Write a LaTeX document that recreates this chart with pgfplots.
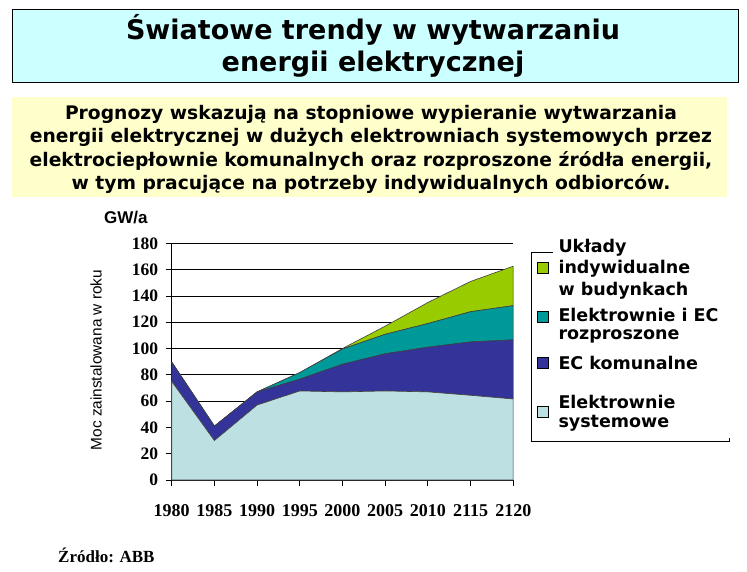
\documentclass[border=0pt]{standalone}
\usepackage{fontspec}
\setmainfont{Liberation Serif}
\newfontfamily\verd{DejaVu Sans}
\newfontfamily\arial{Liberation Sans}
\usepackage{pgfplots}
\pgfplotsset{compat=1.18}
\definecolor{titlecyan}{HTML}{CCFFFF}
\definecolor{subyellow}{HTML}{FFFFCC}
\definecolor{cgreen}{HTML}{99CC00}
\definecolor{cteal}{HTML}{009999}
\definecolor{cnavy}{HTML}{333399}
\definecolor{clight}{HTML}{BDE0E2}
\begin{document}
\begin{tikzpicture}[x=1pt,y=1pt]
\path[use as bounding box] (0,0) rectangle (747,571);
% title box
\draw[fill=titlecyan, line width=1pt] (12,488) rectangle (738,561);
\node[align=center, font=\verd\bfseries\fontsize{27}{32}\selectfont] at (373,525) {Światowe trendy w wytwarzaniu\\energii elektrycznej};
% subtitle box
\fill[subyellow] (12,374) rectangle (727,474);
\node[align=center, font=\verd\bfseries\fontsize{18.7}{23.3}\selectfont] at (371,421.5) {Prognozy wskazują na stopniowe wypieranie wytwarzania\\energii elektrycznej w dużych elektrowniach systemowych przez\\elektrociepłownie komunalnych oraz rozproszone źródła energii,\\w tym pracujące na potrzeby indywidualnych odbiorców.};
% axis
\begin{axis}[
  at={(171.7pt,91pt)}, anchor=south west,
  scale only axis, width=341.6pt, height=236.7pt,
  xmin=0, xmax=8, ymin=0, ymax=180,
  axis lines=left, axis line style={-, line width=0.8pt},
  xtick={0,...,8},
  xticklabels={1980,1985,1990,1995,2000,2005,2010,2115,2120},
  ytick={0,20,...,180},
  ymajorgrids, grid style={black, line width=0.8pt},
  tick align=outside, major tick length=6pt,
  tick style={black, line width=0.8pt},
  xticklabel style={font=\fontsize{18}{18}\selectfont\bfseries, yshift=-15pt},
  yticklabel style={font=\fontsize{17.5}{17.5}\selectfont\bfseries, xshift=-4pt},
  /pgf/number format/assume math mode=true,
  stack plots=y,
  every axis plot/.append style={draw=black!75, line width=0.6pt},
]
\addplot[fill=clight] coordinates {(0,75) (1,30) (2,57) (3,67.7) (4,67) (5,67.7) (6,67) (7,64.4) (8,61.6)} \closedcycle;
\addplot[fill=cnavy] coordinates {(0,14.7) (1,11) (2,10) (3,9) (4,21) (5,28.3) (6,34) (7,40.6) (8,45)} \closedcycle;
\addplot[fill=cteal] coordinates {(0,0) (1,0) (2,0) (3,5) (4,11.6) (5,14.8) (6,18) (7,23) (8,26)} \closedcycle;
\addplot[fill=cgreen] coordinates {(0,0) (1,0) (2,0) (3,0) (4,0.4) (5,6.2) (6,16) (7,23) (8,30)} \closedcycle;
\end{axis}
% axis descriptions
\node[font=\arial\bfseries\fontsize{17}{17}\selectfont, anchor=west, inner sep=0pt] at (104,353) {GW/a};
\node[font=\arial\fontsize{15.4}{15.4}\selectfont, rotate=90] at (96,211) {Moc zainstalowana w roku};
% legend frame
\draw[line width=0.8pt] (553,318.3) -- (531.7,318.3) -- (531.7,129.3) -- (729,129.3) -- (729,133);
\foreach \c/\yy in {cgreen/303.3, cteal/254.3, cnavy/208.3, clight/159.3}
  \draw[fill=\c, line width=0.5pt] (537.2,\yy-5.5) rectangle (548.2,\yy+5.5);
\begin{scope}[every node/.style={anchor=west, inner sep=0pt, font=\verd\bfseries\fontsize{17.5}{17.5}\selectfont}]
\node at (558.3,323) {Układy};
\node at (558.3,302) {indywidualne};
\node at (558.3,280) {w budynkach};
\node at (558.3,256) {Elektrownie i EC};
\node at (558.3,234.3) {rozproszone};
\node at (558.3,208.3) {EC komunalne};
\node at (558.3,169) {Elektrownie};
\node at (558.3,148) {systemowe};
\end{scope}
\node[font=\bfseries\fontsize{17}{17}\selectfont, anchor=west, inner sep=0pt] at (58,16) {Źródło: ABB};
\end{tikzpicture}
\end{document}
